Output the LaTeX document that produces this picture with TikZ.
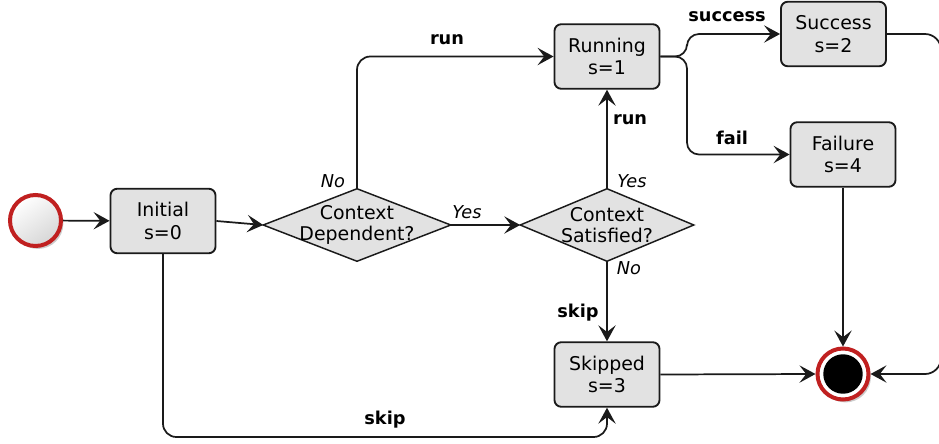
\documentclass[tikz,border=0pt]{standalone}
\usepackage{fontspec}
\setmainfont{DejaVu Sans}
\usetikzlibrary{arrows.meta,shadows,backgrounds}

\definecolor{boxfill}{HTML}{E2E2E2}
\definecolor{ringred}{HTML}{C02020}
\definecolor{edgegray}{HTML}{1A1A1A}

\tikzset{
  state/.style={draw=edgegray, line width=1.4pt, fill=boxfill, rounded corners=5pt,
    minimum width=78.75pt, minimum height=48.4pt, inner sep=0pt, align=center,
    font=\fontsize{14.2}{16.8}\selectfont},
  decision/.style={inner sep=0pt, minimum height=54pt, align=center,
    font=\fontsize{14.2}{16}\selectfont},
  decisionshape/.style={draw=edgegray, line width=1.1pt, fill=boxfill, line join=miter},
  startev/.style={circle, draw=ringred, line width=3pt, minimum size=38.25pt, inner sep=0pt,
    top color=white, bottom color=gray!32, shading angle=35,
    drop shadow={shadow xshift=1.8pt, shadow yshift=-2.2pt, opacity=0.4}},
  endev/.style={circle, draw=ringred, line width=3pt, fill=white, minimum size=38.25pt, inner sep=0pt,
    drop shadow={shadow xshift=1.8pt, shadow yshift=-2.2pt, opacity=0.4}},
  flow/.style={draw=edgegray, line width=1.3pt, -{Stealth[length=12pt,width=13pt,inset=5pt]}},
  lbl/.style={font=\fontsize{13.3}{15}\selectfont\bfseries, inner sep=0pt},
  guard/.style={font=\fontsize{13.3}{15}\selectfont\itshape, inner sep=0pt},
}

\begin{document}
\begin{tikzpicture}[x=0.75pt,y=-0.75pt]
  \useasboundingbox (0,0) rectangle (939,443);
  \clip (0,0) rectangle (939,443);

  % events
  \node[startev] (start) at (35.5,220.5) {};
  \node[endev] (end) at (843,374) {};
  \fill[black] (end.center) circle[radius=14.8pt];

  % states
  \node[state] (ini) at (163,221) {Initial\\s=0};
  \node[state] (run) at (607,56.5) {Running\\s=1};
  \node[state] (suc) at (833.5,34) {Success\\s=2};
  \node[state] (fai) at (843,154.5) {Failure\\s=4};
  \node[state] (skp) at (607,374.5) {Skipped\\s=3};

  % decisions: text nodes with a diamond drawn behind through their side anchors
  \node[decision, minimum width=140.25pt] (cd) at (357,225) {Context\\Dependent?};
  \node[decision, minimum width=129.75pt] (cs) at (607,225) {Context\\Satisfied?};
  \begin{scope}[on background layer]
    \draw[decisionshape] (cd.west) -- (cd.north) -- (cd.east) -- (cd.south) -- cycle;
    \draw[decisionshape] (cs.west) -- (cs.north) -- (cs.east) -- (cs.south) -- cycle;
  \end{scope}

  % transitions
  \draw[flow] (start) -- (ini);
  \draw[flow] (ini.east) -- (cd.west);
  \draw[flow] (cd.east) -- (cs.west);
  \draw[flow, rounded corners=10pt] (cd.north) |- (run.west);
  \draw[flow] (cs.north) -- (run.south);
  \draw[flow] (cs.south) -- (skp.north);
  \coordinate (fork) at (687,56.5);
  \draw[flow, rounded corners=9pt] (run.east) -- (fork) |- (suc.west);
  \draw[flow, rounded corners=9pt] (run.east) -- (fork) |- (fai.west);
  \draw[flow, rounded corners=12pt] (suc.east) -- (941,34) |- (end.east);
  \draw[flow] (fai.south) -- (end.north);
  \draw[flow] (skp.east) -- (end.west);
  \coordinate (bottom) at (163,437);
  \draw[flow, rounded corners=10pt] (ini.south) -- (bottom) -| (skp.south);

  % labels
  \node[lbl] (t-run1) at (447,40) {run};
  \node[lbl] (t-run2) at (630,120) {run};
  \node[lbl] (t-succ) at (727,17) {success};
  \node[lbl] (t-fail) at (732,138) {fail};
  \node[lbl] (t-skip1) at (578,313) {skip};
  \node[lbl] (t-skip2) at (385,420) {skip};
  \node[guard] (g-no1) at (333,181) {No};
  \node[guard] (g-yes1) at (467,212) {Yes};
  \node[guard] (g-yes2) at (632,181) {Yes};
  \node[guard] (g-no2) at (629,268) {No};
\end{tikzpicture}
\end{document}
